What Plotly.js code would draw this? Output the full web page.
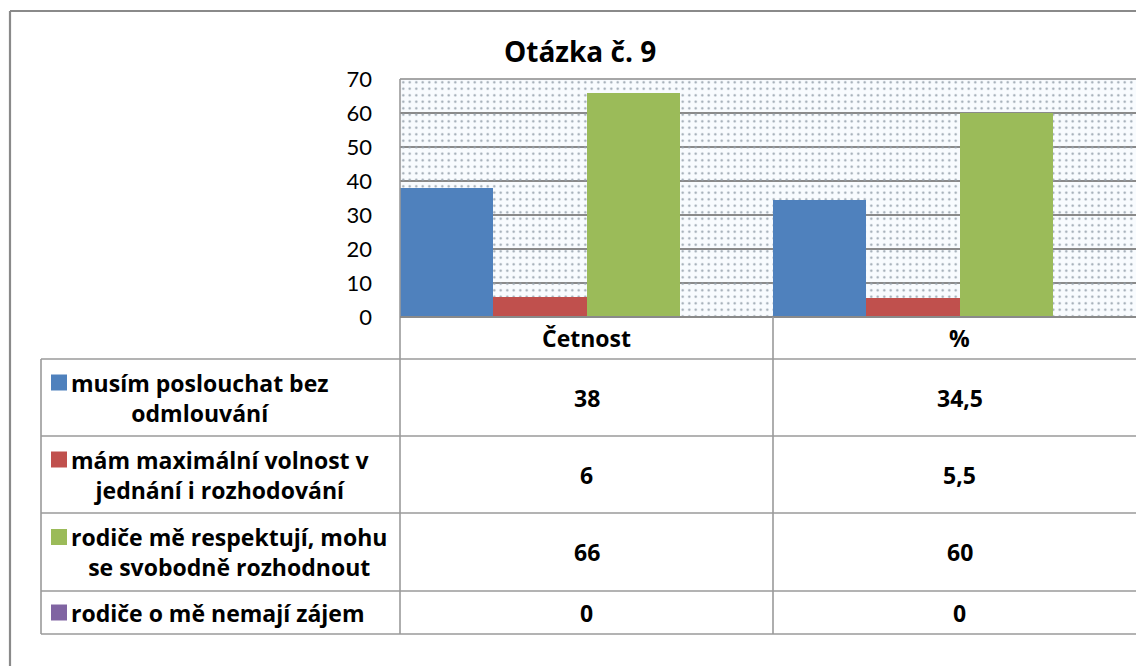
<!DOCTYPE html>
<html>
<head>
<meta charset="utf-8">
<script src="https://cdn.plot.ly/plotly-3.0.1.min.js"></script>
<style>html,body{margin:0;padding:0;background:#fff;}#chart{width:1136px;height:666px;}</style>
</head>
<body>
<div id="chart"></div>
<script>
// ---- data ----
const chartTitle = "Otázka č. 9";
const categories = ["Četnost", "%"];
const seriesNames = [
  "musím poslouchat bez<br>odmlouvání",
  "mám maximální volnost v<br>jednání i rozhodování",
  "rodiče mě respektují, mohu<br>se svobodně rozhodnout",
  "rodiče o mě nemají zájem"
];
const seriesColors = ["#4F81BD", "#C0504D", "#9BBB59", "#8064A2"];
const valuesMusim = [38, 34.5];
const valuesVolnost = [6, 5.5];
const valuesRespekt = [66, 60];
const valuesNezajem = [0, 0];
const yTicks = [0, 10, 20, 30, 40, 50, 60, 70];

const seriesValues = [valuesMusim, valuesVolnost, valuesRespekt, valuesNezajem];

// ---- layout helpers (pixel -> paper) ----
const W = 1136, H = 666;
const px = x => x / W;
const py = y => 1 - y / H;

const plotL = 400, plotT = 79, plotB = 317;
const colX = [41, 400, 773];
const rowY = [317, 359, 436, 513, 591, 634];
const tableRight = 1136;

const traces = [];
// dotted background pattern for plot area
traces.push({
  type: "bar", x: [0.5], y: [yTicks[yTicks.length - 1]], width: [1],
  xaxis: "x", yaxis: "y", showlegend: false, hoverinfo: "skip",
  marker: { color: "#98a3ae", line: { width: 0 },
    pattern: { shape: ".", size: 6.5, solidity: 0.1, fillmode: "replace" } }
});
seriesValues.forEach((vals, i) => {
  traces.push({
    type: "bar", x: categories, y: vals, name: seriesNames[i],
    xaxis: "x2", yaxis: "y2", showlegend: false,
    marker: { color: seriesColors[i], line: { width: 0 } }
  });
});

const catPx = 373; // width of one category in px
const xEnd = -0.5 + (W - plotL) / catPx;

const shapes = [];
const line = (x0, y0, x1, y1, w, c) => shapes.push({
  type: "line", xref: "paper", yref: "paper",
  x0: px(x0), y0: py(y0), x1: px(x1), y1: py(y1),
  line: { color: c || "#9a9a9a", width: w || 1.5 }
});
// outer chart border
line(10, 11, W, 11, 2.2, "#8a8a8a");
line(10, 11, 10, H, 2.2, "#8a8a8a");
// plot area border
line(plotL, plotT, W, plotT, 1.6, "#8a8a8a");
line(plotL, plotT, plotL, rowY[5], 1.6, "#9a9a9a");
line(plotL, plotB, W, plotB, 2.2, "#8a8a8a");
// table
for (let r = 1; r < rowY.length; r++) line(colX[0], rowY[r], tableRight, rowY[r], 1.6);
line(colX[0], rowY[1], colX[0], rowY[5], 1.6);
line(colX[2], rowY[0], colX[2], rowY[5], 1.6);

const annotations = [];
const font = "'Open Sans', 'Noto Sans', sans-serif";
const tickFont = "Lato, 'Noto Sans', sans-serif";
annotations.push({
  xref: "paper", yref: "paper", x: px(580), y: py(51), text: "<b>" + chartTitle + "</b>",
  showarrow: false, xanchor: "center", yanchor: "middle",
  font: { family: font, size: 28, color: "#000" }
});
// header
categories.forEach((c, j) => {
  annotations.push({
    xref: "paper", yref: "paper", x: px((colX[1] + colX[2]) / 2 + j * catPx), y: py((rowY[0] + rowY[1]) / 2),
    text: "<b>" + c + "</b>", showarrow: false, xanchor: "center", yanchor: "middle",
    font: { family: font, size: 23, color: "#000" }
  });
});
// rows
seriesNames.forEach((n, i) => {
  const yc = (rowY[i + 1] + rowY[i + 2]) / 2;
  const nLines = n.split("<br>").length;
  const keyY = nLines > 1 ? yc - 15 : yc;
  shapes.push({
    type: "rect", xref: "paper", yref: "paper",
    x0: px(51), x1: px(67), y0: py(keyY - 8), y1: py(keyY + 8),
    fillcolor: seriesColors[i], line: { width: 0 }
  });
  annotations.push({
    xref: "paper", yref: "paper", x: px(69), y: py(yc),
    text: "<b>" + n + "</b>", showarrow: false, xanchor: "left", yanchor: "middle", align: "center",
    font: { family: font, size: 23, color: "#000" }
  });
  seriesValues[i].forEach((v, j) => {
    annotations.push({
      xref: "paper", yref: "paper", x: px((colX[1] + colX[2]) / 2 + j * catPx), y: py(yc),
      text: "<b>" + String(v).replace(".", ",") + "</b>", showarrow: false,
      xanchor: "center", yanchor: "middle",
      font: { family: font, size: 23, color: "#000" }
    });
  });
});

const layout = {
  width: W, height: H,
  margin: { l: 0, r: 0, t: 0, b: 0 },
  paper_bgcolor: "#fff",
  plot_bgcolor: "#f8fbfe",
  barmode: "group", bargap: 0, bargroupgap: 0,
  showlegend: false,
  xaxis: { domain: [px(plotL), 1], range: [0, 1], visible: false, fixedrange: true },
  yaxis: { domain: [py(plotB), py(plotT)], range: [0, 70], visible: false, showgrid: false },
  xaxis2: { overlaying: "x", anchor: "y2", type: "category", range: [-0.5, xEnd],
    showticklabels: false, showgrid: false, showline: false, ticks: "", zeroline: false },
  yaxis2: { overlaying: "y", anchor: "x2", range: [0, 70], tickvals: yTicks,
    showgrid: true, gridcolor: "#8a8a8a", gridwidth: 1.4, zeroline: false, showline: false,
    ticks: "", ticklabelstandoff: 27,
    tickfont: { family: tickFont, size: 22, color: "#000" } },
  shapes: shapes,
  annotations: annotations
};

Plotly.newPlot("chart", traces, layout, { staticPlot: true, displayModeBar: false });
</script>
</body>
</html>
